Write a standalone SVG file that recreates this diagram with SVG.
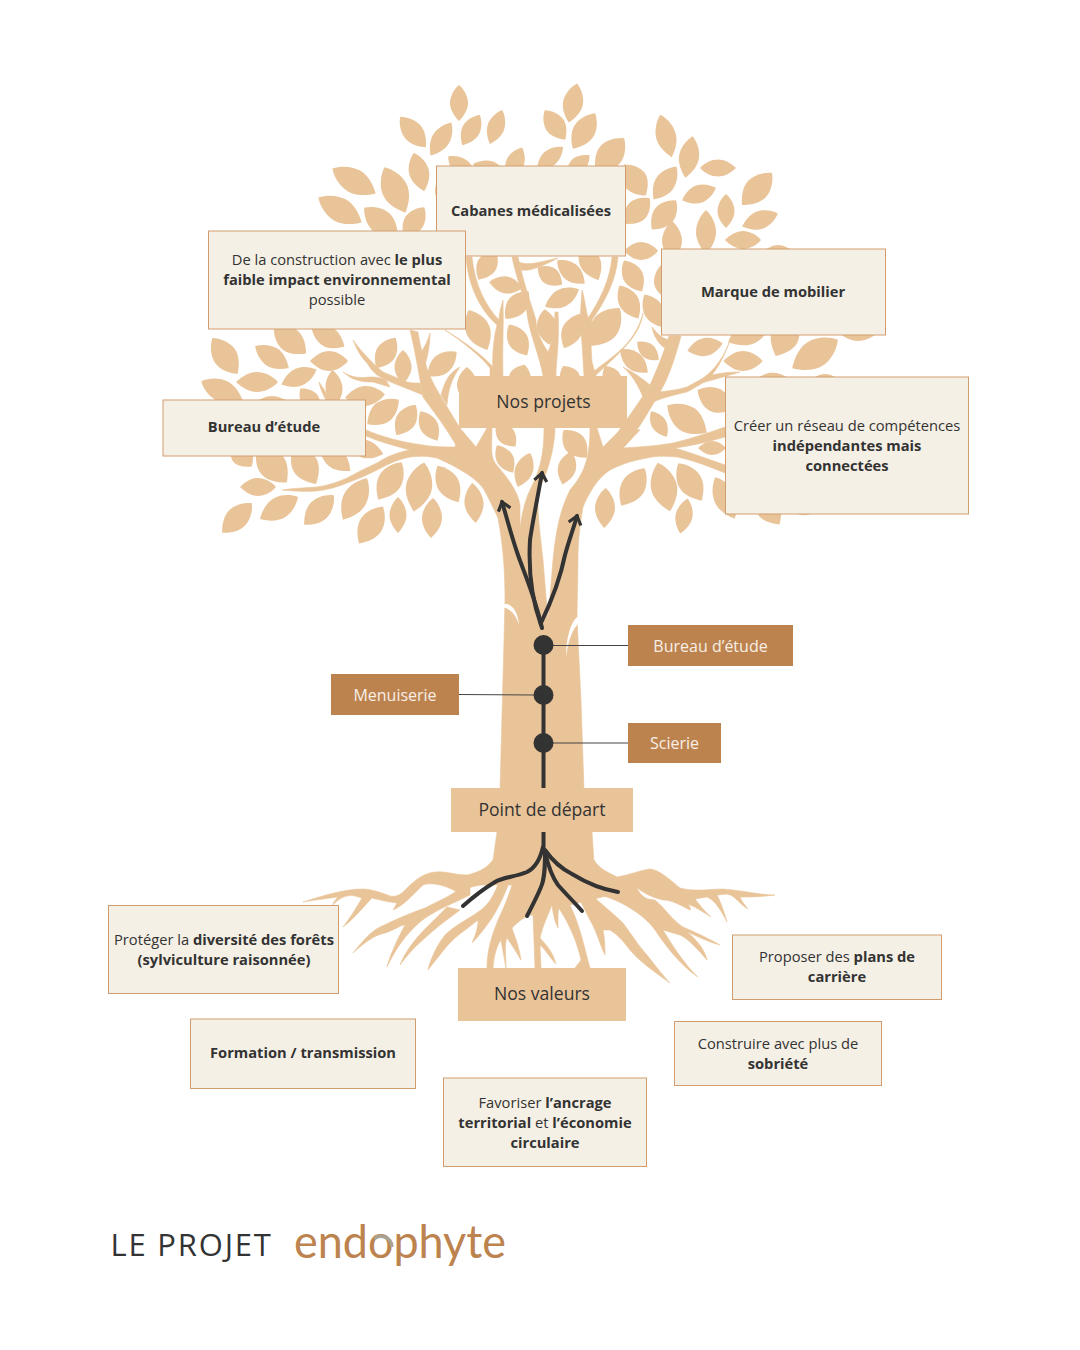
<svg xmlns="http://www.w3.org/2000/svg" xmlns:xlink="http://www.w3.org/1999/xlink" width="1080" height="1350" viewBox="0 0 1080 1350">
<style>
text{font-family:"Open Sans","Noto Sans","Liberation Sans",sans-serif;fill:#333;text-anchor:middle;font-size:14.7px}
.b{font-weight:700}
.card{fill:#f5f0e6;stroke:#d29d6e;stroke-width:1}
.tag{fill:#eac499}
.org{fill:#bd834f}
.tr{fill:#eac499;stroke:#eac499;stroke-width:.6;stroke-linejoin:round}
.lbl{font-size:17.6px}
.w{fill:#f7efe6;font-size:16px}
.dark{fill:none;stroke:#333;stroke-width:4;stroke-linecap:round;stroke-linejoin:round}
.thin{fill:none;stroke:#444;stroke-width:1}
.nd{fill:#333}
</style>
<defs>
<path id="l" d="M0,-20C6,-15 10,-7 10,0C10,7 6,14 0,20C-6,14 -10,7 -10,0C-10,-7 -6,-15 0,-20Z" fill="#eac499"/>
<marker id="ah" viewBox="0 0 20 20" refX="12" refY="10" markerWidth="18" markerHeight="18" markerUnits="userSpaceOnUse" orient="auto">
<path d="M3,3L12,10L3,17" fill="none" stroke="#333" stroke-width="3.6" stroke-linejoin="miter"/>
</marker>
</defs>
<rect width="1080" height="1350" fill="#fff"/>
<g id="leaves">
<use href="#l" transform="translate(459 103) rotate(0) scale(.9 .9)"/>
<use href="#l" transform="translate(413 132) rotate(-40) scale(1 1)"/>
<use href="#l" transform="translate(441 139) rotate(32) scale(.9 .98)"/>
<use href="#l" transform="translate(471 130) rotate(30) scale(.9 .88)"/>
<use href="#l" transform="translate(496 127) rotate(20) scale(.85 .9)"/>
<use href="#l" transform="translate(419 172) rotate(-15) scale(1 1)"/>
<use href="#l" transform="translate(462 168) rotate(-50) scale(.9 .9)"/>
<use href="#l" transform="translate(490 170) rotate(-70) scale(.9 .9)"/>
<use href="#l" transform="translate(515 163) rotate(25) scale(.9 .85)"/>
<use href="#l" transform="translate(354 181) rotate(-60) scale(1.2 1.25)"/>
<use href="#l" transform="translate(395 190) rotate(-25) scale(1.3 1.25)"/>
<use href="#l" transform="translate(340 210) rotate(-60) scale(1.2 1.25)"/>
<use href="#l" transform="translate(381 222) rotate(-50) scale(1.2 1.1)"/>
<use href="#l" transform="translate(414 222) rotate(35) scale(1 .9)"/>
<use href="#l" transform="translate(350 240) rotate(90) scale(.8 .9)"/>
<use href="#l" transform="translate(445 195) rotate(-30) scale(.9 .8)"/>
<use href="#l" transform="translate(487 265) rotate(30) scale(1 .85)"/>
<use href="#l" transform="translate(506 285) rotate(-80) scale(.85 .85)"/>
<use href="#l" transform="translate(517 305) rotate(40) scale(1 .9)"/>
<use href="#l" transform="translate(478 330) rotate(-25) scale(1.2 1.1)"/>
<use href="#l" transform="translate(518 340) rotate(-30) scale(1 .9)"/>
<use href="#l" transform="translate(573 103) rotate(12) scale(1 1)"/>
<use href="#l" transform="translate(555 125) rotate(-35) scale(1 .9)"/>
<use href="#l" transform="translate(584 131) rotate(32) scale(1.1 1.05)"/>
<use href="#l" transform="translate(550 158) rotate(50) scale(.8 .85)"/>
<use href="#l" transform="translate(578 165) rotate(50) scale(.8 .75)"/>
<use href="#l" transform="translate(610 155) rotate(40) scale(1.3 1.1)"/>
<use href="#l" transform="translate(635 180) rotate(-35) scale(1.2 .95)"/>
<use href="#l" transform="translate(637 211) rotate(45) scale(1.1 .9)"/>
<use href="#l" transform="translate(665 183) rotate(35) scale(1 1)"/>
<use href="#l" transform="translate(666 136) rotate(-15) scale(1 1.1)"/>
<use href="#l" transform="translate(689 157) rotate(10) scale(1 1.05)"/>
<use href="#l" transform="translate(718 168) rotate(-90) scale(.85 .9)"/>
<use href="#l" transform="translate(699 194) rotate(70) scale(.9 .9)"/>
<use href="#l" transform="translate(664 215) rotate(40) scale(1.1 .95)"/>
<use href="#l" transform="translate(757 189) rotate(43) scale(1.2 1.1)"/>
<use href="#l" transform="translate(760 220) rotate(70) scale(.9 .95)"/>
<use href="#l" transform="translate(726 211) rotate(0) scale(.85 .85)"/>
<use href="#l" transform="translate(672 241) rotate(0) scale(1 1)"/>
<use href="#l" transform="translate(706 232) rotate(0) scale(1 1.1)"/>
<use href="#l" transform="translate(743 240) rotate(90) scale(.9 .9)"/>
<use href="#l" transform="translate(641 251) rotate(90) scale(.9 .85)"/>
<use href="#l" transform="translate(778 253) rotate(90) scale(.8 .8)"/>
<use href="#l" transform="translate(590 262) rotate(-25) scale(1.05 1)"/>
<use href="#l" transform="translate(633 276) rotate(-30) scale(1 .9)"/>
<use href="#l" transform="translate(629 302) rotate(-30) scale(1 .95)"/>
<use href="#l" transform="translate(654 311) rotate(-30) scale(1 .95)"/>
<use href="#l" transform="translate(665 282) rotate(-10) scale(1.1 .9)"/>
<use href="#l" transform="translate(571 272) rotate(-50) scale(.9 .9)"/>
<use href="#l" transform="translate(550 276) rotate(-55) scale(.9 .75)"/>
<use href="#l" transform="translate(562 298) rotate(63) scale(.9 .95)"/>
<use href="#l" transform="translate(605 327) rotate(38) scale(1.4 1.2)"/>
<use href="#l" transform="translate(572 331) rotate(25) scale(1 .95)"/>
<use href="#l" transform="translate(547 327) rotate(-8) scale(1 .9)"/>
<use href="#l" transform="translate(225 356) rotate(-35) scale(1.2 1.1)"/>
<use href="#l" transform="translate(290 340) rotate(-50) scale(1.2 1.05)"/>
<use href="#l" transform="translate(328 337) rotate(-60) scale(1 .95)"/>
<use href="#l" transform="translate(272 357) rotate(-57) scale(1 1)"/>
<use href="#l" transform="translate(329 361) rotate(90) scale(1 .95)"/>
<use href="#l" transform="translate(257 382) rotate(90) scale(1 1.05)"/>
<use href="#l" transform="translate(299 377) rotate(67) scale(.9 .95)"/>
<use href="#l" transform="translate(222 391) rotate(-65) scale(1.1 1.15)"/>
<use href="#l" transform="translate(272 404) rotate(90) scale(.8 .9)"/>
<use href="#l" transform="translate(310 400) rotate(-40) scale(.9 .75)"/>
<use href="#l" transform="translate(334 388) rotate(-5) scale(.85 .9)"/>
<use href="#l" transform="translate(365 396) rotate(85) scale(1 1)"/>
<use href="#l" transform="translate(383 412) rotate(52) scale(1.1 1)"/>
<use href="#l" transform="translate(406 420) rotate(32) scale(1 .9)"/>
<use href="#l" transform="translate(429 426) rotate(-30) scale(.9 .85)"/>
<use href="#l" transform="translate(386 353) rotate(32) scale(1 .9)"/>
<use href="#l" transform="translate(403 367) rotate(0) scale(.85 .85)"/>
<use href="#l" transform="translate(442 364) rotate(50) scale(1 .95)"/>
<use href="#l" transform="translate(365 449) rotate(-75) scale(.9 .95)"/>
<use href="#l" transform="translate(242 455) rotate(-40) scale(1.1 .75)"/>
<use href="#l" transform="translate(272 465) rotate(-40) scale(1.4 1.15)"/>
<use href="#l" transform="translate(305 465) rotate(-30) scale(1.3 1.1)"/>
<use href="#l" transform="translate(335 458) rotate(-50) scale(1 1)"/>
<use href="#l" transform="translate(258 487) rotate(90) scale(.9 .9)"/>
<use href="#l" transform="translate(237 518) rotate(45) scale(1.1 1.05)"/>
<use href="#l" transform="translate(279 508) rotate(60) scale(1.1 1.1)"/>
<use href="#l" transform="translate(319 510) rotate(45) scale(1.1 1.05)"/>
<use href="#l" transform="translate(355 499) rotate(30) scale(1.2 1.2)"/>
<use href="#l" transform="translate(390 481) rotate(32) scale(1.2 1.1)"/>
<use href="#l" transform="translate(371 525) rotate(33) scale(1.2 1.1)"/>
<use href="#l" transform="translate(419 487) rotate(12) scale(1.3 1.25)"/>
<use href="#l" transform="translate(398 515) rotate(0) scale(.85 .9)"/>
<use href="#l" transform="translate(432 518) rotate(3) scale(1 1)"/>
<use href="#l" transform="translate(448 484) rotate(-30) scale(1.1 1.05)"/>
<use href="#l" transform="translate(474 503) rotate(-5) scale(.95 1)"/>
<use href="#l" transform="translate(634 361) rotate(-50) scale(.9 .9)"/>
<use href="#l" transform="translate(648 351) rotate(-50) scale(.75 .7)"/>
<use href="#l" transform="translate(705 347) rotate(78) scale(.9 .9)"/>
<use href="#l" transform="translate(743 361) rotate(90) scale(1 .98)"/>
<use href="#l" transform="translate(750 332) rotate(65) scale(1.2 1.2)"/>
<use href="#l" transform="translate(785 336) rotate(25) scale(1.4 1.1)"/>
<use href="#l" transform="translate(815 354) rotate(58) scale(1.4 1.35)"/>
<use href="#l" transform="translate(858 330) rotate(90) scale(1.1 1.1)"/>
<use href="#l" transform="translate(770 381) rotate(80) scale(.8 .9)"/>
<use href="#l" transform="translate(825 386) rotate(90) scale(1.2 1)"/>
<use href="#l" transform="translate(750 385) rotate(90) scale(.6 .7)"/>
<use href="#l" transform="translate(715 400) rotate(-60) scale(1.2 1)"/>
<use href="#l" transform="translate(687 419) rotate(-55) scale(1.3 1.2)"/>
<use href="#l" transform="translate(659 424) rotate(-32) scale(.75 .75)"/>
<use href="#l" transform="translate(712 448) rotate(90) scale(.7 .7)"/>
<use href="#l" transform="translate(633 487) rotate(32) scale(1.2 1.1)"/>
<use href="#l" transform="translate(664 487) rotate(-14) scale(1.3 1.25)"/>
<use href="#l" transform="translate(690 482) rotate(-32) scale(1.2 1.1)"/>
<use href="#l" transform="translate(684 516) rotate(12) scale(.85 .9)"/>
<use href="#l" transform="translate(605 508) rotate(2) scale(1 1)"/>
<use href="#l" transform="translate(725 498) rotate(-25) scale(1.1 1.15)"/>
<use href="#l" transform="translate(768 508) rotate(-35) scale(1.2 1)"/>
<use href="#l" transform="translate(806 505) rotate(80) scale(1 1)"/>
<use href="#l" transform="translate(505 459) rotate(-30) scale(.85 .8)"/>
<use href="#l" transform="translate(524 470) rotate(20) scale(.9 .9)"/>
<use href="#l" transform="translate(567 468) rotate(15) scale(.9 .85)"/>
<use href="#l" transform="translate(575 444) rotate(-40) scale(1.1 .9)"/>
<use href="#l" transform="translate(506 435) rotate(-40) scale(.9 .75)"/>
<use href="#l" transform="translate(520 378) rotate(20) scale(1.1 .7)"/>
<use href="#l" transform="translate(570 378) rotate(-30) scale(1 .7)"/>
<use href="#l" transform="translate(612 378) rotate(-30) scale(.9 .7)"/>
<use href="#l" transform="translate(467 385) rotate(0) scale(1 .9)"/>
</g>
<g id="tree">
<path class="tr" d="M500,790L504,640L505,600C505,570 503,545 498,518C492,505 487,495 483,488C475,478 463,470 437,458C428,456 418,456 410,457C395,460 385,466 377,470C365,476 355,480 347,483C335,488 325,490 317,491C305,492 295,491 282,490C295,488 305,488 317,487C330,485 340,481 347,478C358,472 368,467 377,463C388,456 398,452 410,450C395,446 380,442 366,436L366,430C380,436 400,442 423,445C435,447 445,447 455,447L460,428L476,447L487,428L492,428C492,445 490,455 495,463C505,475 518,490 520,505L520,533C520,520 525,500 530,490C540,470 544,455 544,428L544,376L555,376L555,428C555,445 548,475 538,490C537,515 541,540 543,560L548,620L553,560C556,530 560,510 570,490C580,478 590,465 590,428L597,428L603,447L622,428L640,430L623,448C640,447 655,446 673,443C690,439 708,433 725,427L725,437C708,442 690,446 675,448C692,453 708,459 725,465L725,473C708,466 692,460 677,457C665,456 655,456 647,458C630,461 620,465 610,470C597,478 588,495 583,507C580,525 578,540 578,560L577,618L581,700L584,790Z"/>
<path class="tr" d="M618,432C630,415 642,398 650,385C656,372 664,352 669,336L681,336C676,355 668,380 660,392C650,410 635,435 623,448Z"/>
<path class="tr" d="M653,402C665,397 678,394 687,392C695,388 700,384 705,382C720,378 730,375 740,372C730,372 720,373 712,375C720,365 726,352 730,340C725,355 715,370 703,378C695,383 690,385 687,387C677,390 668,391 658,392Z"/>
<path class="tr" d="M623,367C632,375 638,385 643,397L650,385C642,378 633,372 623,367Z"/>
<path class="tr" d="M652,327C654,338 660,345 666,349L669,340C661,338 656,332 652,327Z"/>
<path class="tr" d="M460,452C445,425 432,410 423,397C420,380 416,355 410,330L418,332C420,345 422,352 426,365C430,380 440,395 460,428L465,450Z"/>
<path class="tr" d="M421,352C425,347 428,340 430,333C430,345 428,355 425,365Z"/>
<path class="tr" d="M353,340C357,350 361,357 367,363C370,368 373,372 377,375C385,380 395,384 403,387L423,395L420,383C415,383 411,383 407,382C398,378 390,375 383,372C378,368 374,364 370,360C364,354 358,347 353,340Z"/>
<path class="tr" d="M343,372C348,376 352,379 357,380C362,382 368,382 373,382L390,387L386,380C380,377 375,377 370,377C362,378 352,378 343,372Z"/>
<path class="tr" d="M460,367C450,372 445,380 441,395L447,405C448,390 452,378 460,367Z"/>
<path class="tr" d="M319,382L331,400L327,402C323,395 320,388 319,382Z"/>
<path class="tr" d="M445,330C460,340 480,355 490,368L490,376L500,376C490,360 465,342 445,330Z"/>
<path class="tr" d="M466,257C468,285 480,310 497,325C493,340 492,360 493,376L503,376C502,350 504,325 503,300C500,310 499,315 499,320C485,305 475,285 472,257Z"/>
<path class="tr" d="M528,320C532,340 540,358 543,376L556,376C556,360 560,340 558,312L555,312C554,335 551,345 548,352C540,340 536,330 536,320C530,300 524,285 518,257L512,257C518,285 526,300 528,320Z"/>
<path class="tr" d="M519,262C528,266 540,262 558,258C545,265 530,272 521,270Z"/>
<path class="tr" d="M612,257C610,280 600,300 588,318C585,305 584,295 582,290L580,320C582,340 583,360 584,376L596,376L592,362C591,345 590,330 592,320C606,300 616,280 618,257Z"/>
<path class="tr" d="M593,372C610,358 635,345 643,313C640,335 625,348 595,376Z"/>
<path d="M503,604L507,604C514,606 518,614 519,625C516,615 512,610 503,607Z" fill="#fff"/>
<path d="M581,616L577,617C570,623 566,640 566,657C568,642 572,628 581,621Z" fill="#fff"/>
<path class="tr" d="M497,832L592,832L594,862L622,892L570,905L520,885L470,885L493,860Z"/>
<path class="tr" d="M518,860C514,885 505,905 498,920C492,935 487,950 487,968L493,968C494,955 497,945 501,940L506,968C506,955 504,945 507,938C512,945 518,955 521,960C519,945 514,935 512,928C518,922 526,915 533,915L535,968L541,968L540,945C546,950 550,958 556,964C552,950 546,945 540,938C543,925 548,915 552,905C553,915 555,922 558,928C558,915 558,905 560,910C570,925 578,945 581,960L575,968L590,968C585,950 580,925 570,905L560,885L520,860Z"/>
<path class="tr" d="M503,870C497,890 490,905 478,912C470,918 455,925 445,935C437,945 430,960 428,970C440,955 447,945 455,938C462,932 472,925 478,920C478,930 474,938 472,943C480,935 487,925 492,918C500,905 510,885 515,862Z"/>
<path class="tr" d="M447,907C430,925 410,940 400,965C412,948 425,938 440,925L460,910Z"/>
<path class="tr" d="M470,880C455,895 440,900 425,908C405,915 395,920 380,927C370,932 362,942 353,953C365,942 375,935 385,933C395,930 400,925 405,925C397,940 390,955 387,967C395,950 405,935 420,922C435,910 450,905 470,895Z"/>
<path class="tr" d="M495,860C485,870 475,873 467,875C455,875 445,871 437,872C425,872 415,880 407,888C400,896 395,897 390,896C380,892 370,889 363,889C345,889 325,895 303,902C315,900 330,898 338,897C335,900 333,903 333,905C342,895 350,895 355,896L362,898C355,910 350,918 343,927C355,918 365,905 372,898C380,900 388,902 397,903L393,910C405,905 415,892 423,885C430,882 445,885 455,891L480,885L500,870Z"/>
<path class="tr" d="M594,860C600,870 610,873 617,877C630,875 640,870 650,869C660,870 670,880 680,888C695,892 710,889 723,889C740,890 760,895 775,895C760,897 750,897 740,897C742,902 745,905 748,909C740,905 735,895 727,894L717,895C722,905 725,915 727,922C722,912 715,900 707,897L695,899C700,905 705,912 711,917C700,910 695,907 688,904C692,910 690,910 690,910C680,905 672,900 663,900C650,897 643,892 637,888C640,895 645,898 650,900L620,898L590,880Z"/>
<path class="tr" d="M600,885L623,897C635,900 645,898 655,900C665,908 672,920 683,927C695,932 708,938 720,945C708,942 697,936 687,932C697,940 705,950 707,960C698,950 690,940 680,935L663,930C672,945 685,965 698,977C680,965 665,945 655,930C645,915 620,900 600,895Z"/>
<path class="tr" d="M583,885C595,900 610,910 623,923C632,935 638,945 647,955C655,965 665,978 670,983C655,972 640,962 630,950C622,940 618,935 610,930L603,930C605,940 605,948 605,955C600,945 597,932 590,920C582,905 578,895 572,885Z"/>
</g>
<g id="connectors">
<path class="thin" d="M553,645.500H628"/>
<path class="thin" d="M459,694.500L534,695"/>
<path class="thin" d="M553,743H628"/>
<path class="dark" d="M543.500,788V640"/>
<path class="dark" d="M542,628C536,600 525,575 518,555C511,535 507,518 502,502" marker-end="url(#ah)"/>
<path class="dark" d="M541,625C532,600 528,575 530,540C532,525 538,495 542,473" marker-end="url(#ah)"/>
<path class="dark" d="M541,623C552,600 560,580 565,555C569,540 573,530 577,516" marker-end="url(#ah)"/>
<path class="dark" d="M543.500,832V848"/>
<path class="dark" d="M543,847C540,860 535,868 527,872C515,877 503,877 495,882C485,888 472,898 463,906"/>
<path class="dark" d="M545,852C545,865 545,878 541,887C537,897 532,906 527,916"/>
<path class="dark" d="M545,852C548,865 552,877 558,885C565,893 575,903 582,911"/>
<path class="dark" d="M545,850C552,860 560,868 572,874C585,882 600,889 618,892"/>
<circle class="nd" cx="543.500" cy="645" r="10"/>
<circle class="nd" cx="543.500" cy="695" r="10"/>
<circle class="nd" cx="543.500" cy="743" r="10"/>
</g>
<g id="node-cabanes"><rect class="card" x="436.500" y="166" width="189" height="90"/><text x="531" y="216" class="b">Cabanes médicalisées</text></g>
<g id="node-construction"><rect class="card" x="208.500" y="231" width="257" height="98"/><text x="337" y="265">De la construction avec <tspan class="b">le plus</tspan></text><text x="337" y="285" class="b">faible impact environnemental</text><text x="337" y="305">possible</text></g>
<g id="node-mobilier"><rect class="card" x="661.500" y="249" width="224" height="86"/><text x="773" y="297" class="b">Marque de mobilier</text></g>
<g id="node-reseau"><rect class="card" x="725.500" y="377" width="243" height="137"/><text x="847" y="431">Créer un réseau de compétences</text><text x="847" y="451" class="b">indépendantes mais</text><text x="847" y="471" class="b">connectées</text></g>
<g id="node-bureau-etude"><rect class="card" x="163" y="400" width="202.500" height="56"/><text x="264" y="432" class="b">Bureau d’étude</text></g>
<g id="node-projets"><rect class="tag" x="459" y="376" width="168" height="52"/><text x="543.500" y="408" class="lbl">Nos projets</text></g>
<g id="node-depart"><rect class="tag" x="451" y="788" width="182" height="44"/><text x="542" y="816" class="lbl">Point de départ</text></g>
<g id="node-valeurs"><rect class="tag" x="458" y="968" width="168" height="53"/><text x="542" y="1000" class="lbl">Nos valeurs</text></g>
<g id="node-bureau"><rect class="org" x="628" y="625" width="165" height="41"/><text x="710.500" y="652" class="w">Bureau d’étude</text></g>
<g id="node-menuiserie"><rect class="org" x="331" y="674" width="128" height="41"/><text x="395" y="701" class="w">Menuiserie</text></g>
<g id="node-scierie"><rect class="org" x="628" y="723" width="93" height="40"/><text x="674.500" y="749" class="w">Scierie</text></g>
<g id="node-proteger"><rect class="card" x="108.500" y="905.500" width="230" height="88"/><text x="224" y="945">Protéger la <tspan class="b">diversité des forêts</tspan></text><text x="224" y="965" class="b">(sylviculture raisonnée)</text></g>
<g id="node-formation"><rect class="card" x="190.500" y="1019" width="225" height="69.500"/><text x="303" y="1058" class="b">Formation / transmission</text></g>
<g id="node-favoriser"><rect class="card" x="443.500" y="1078" width="203" height="88.500"/><text x="545" y="1108">Favoriser <tspan class="b">l’ancrage</tspan></text><text x="545" y="1128"><tspan class="b">territorial</tspan> et <tspan class="b">l’économie</tspan></text><text x="545" y="1148" class="b">circulaire</text></g>
<g id="node-construire"><rect class="card" x="674.500" y="1021.500" width="207" height="64"/><text x="778" y="1049">Construire avec plus de</text><text x="778" y="1069" class="b">sobriété</text></g>
<g id="node-proposer"><rect class="card" x="732.500" y="935" width="209" height="64.500"/><text x="837" y="962">Proposer des <tspan class="b">plans de</tspan></text><text x="837" y="982" class="b">carrière</text></g>
<g id="footer">
<text x="110.500" y="1256" style="text-anchor:start;font-size:31px;letter-spacing:1.8px">LE PROJET</text>
<text x="294" y="1258" style="text-anchor:start;font-size:46px;font-family:'Lato','Open Sans',sans-serif;font-weight:400;fill:#bd834f" textLength="212" lengthAdjust="spacingAndGlyphs">endophyte</text>
<path d="M374,1239A11,11 0 0 1 392,1247" fill="none" stroke="#a9a294" stroke-width="3.5"/>
</g>
</svg>
